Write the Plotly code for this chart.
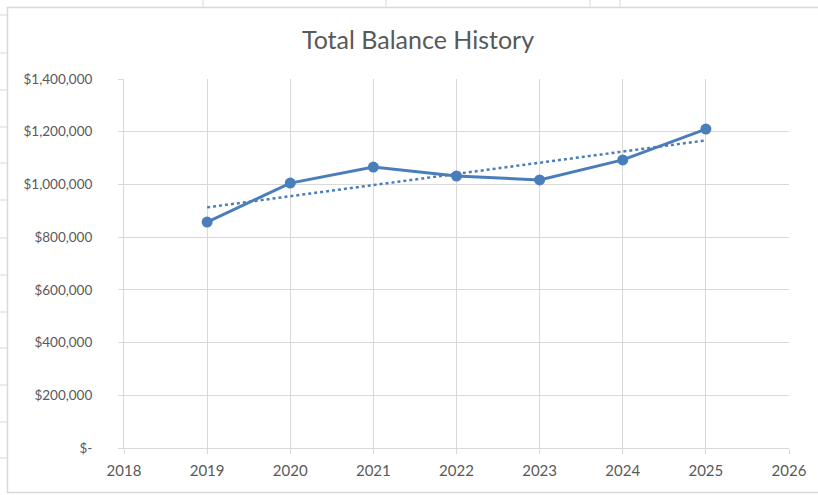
import numpy as np
import plotly.graph_objects as go

years = [2019, 2020, 2021, 2022, 2023, 2024, 2025]
balances = [857000, 1005000, 1066000, 1032000, 1017000, 1093000, 1210000]
y_ticks = [0, 200000, 400000, 600000, 800000, 1000000, 1200000, 1400000]
y_tick_labels = ["$-", "$200,000", "$400,000", "$600,000", "$800,000",
                 "$1,000,000", "$1,200,000", "$1,400,000"]
x_ticks = [2018, 2019, 2020, 2021, 2022, 2023, 2024, 2025, 2026]

# Linear trendline (least squares, as Excel does)
coef = np.polyfit(years, balances, 1)
trend = np.polyval(coef, years)

BLUE = "#4a7ebb"
GRID = "#d9d9d9"
TEXT = "#595959"
FONT = "Lato"

W, H = 818, 495
L, R, T, B = 124, 29, 79, 47
PW, PH = W - L - R, H - T - B

def px(x):
    return (x - L) / PW

def py(y):
    return (H - B - y) / PH

fig = go.Figure()
fig.add_trace(go.Scatter(x=years, y=trend, mode="lines",
                         line=dict(color=BLUE, width=2.5, dash="dot"),
                         hoverinfo="skip", showlegend=False))
fig.add_trace(go.Scatter(x=years, y=balances, mode="lines+markers",
                         line=dict(color=BLUE, width=3),
                         marker=dict(color=BLUE, size=11),
                         showlegend=False))

shapes = []
# chart border
shapes.append(dict(type="rect", xref="paper", yref="paper",
                   x0=px(7.5), x1=px(840), y0=py(7.5), y1=py(492.5),
                   line=dict(color=GRID, width=1.5), fillcolor="white",
                   layer="below"))
# spreadsheet gridlines outside chart (left strip)
for yy in [15, 53, 90, 127, 163, 200, 238, 275, 312, 348, 385, 422, 458]:
    shapes.append(dict(type="line", xref="paper", yref="paper",
                       x0=px(0), x1=px(7), y0=py(yy), y1=py(yy),
                       line=dict(color=GRID, width=1), layer="below"))
# top strip
for xx in [203, 386, 590, 620]:
    shapes.append(dict(type="line", xref="paper", yref="paper",
                       x0=px(xx), x1=px(xx), y0=py(0), y1=py(7),
                       line=dict(color=GRID, width=1), layer="below"))

fig.update_layout(
    width=W, height=H,
    margin=dict(l=L, r=R, t=T, b=B),
    paper_bgcolor="white", plot_bgcolor="rgba(0,0,0,0)",
    shapes=shapes,
    title=dict(text="Total Balance History", x=418 / W, xref="container",
               xanchor="center",
               y=1 - 40 / H, yanchor="middle", yref="container",
               font=dict(family=FONT, size=25, color=TEXT)),
    font=dict(family=FONT, size=15, color=TEXT),
    xaxis=dict(range=[2018, 2026], tickvals=x_ticks, showgrid=True,
               gridcolor=GRID, gridwidth=1, showline=True, linecolor=GRID,
               linewidth=1, ticks="outside", ticklen=5, tickcolor=GRID,
               zeroline=False, ticklabelstandoff=4, fixedrange=True,
               tickfont=dict(family=FONT, size=15, color=TEXT)),
    yaxis=dict(range=[0, 1400000], tickvals=y_ticks, ticktext=y_tick_labels,
               showgrid=True, gridcolor=GRID, gridwidth=1, showline=True,
               linecolor=GRID, linewidth=1, ticks="outside", ticklen=5,
               tickcolor=GRID, zeroline=False, ticklabelstandoff=23,
               fixedrange=True,
               tickfont=dict(family=FONT, size=13.5, color=TEXT)),
)

fig.write_html("out.html", config={"displayModeBar": False},
               post_script="document.body.style.margin='0';")
